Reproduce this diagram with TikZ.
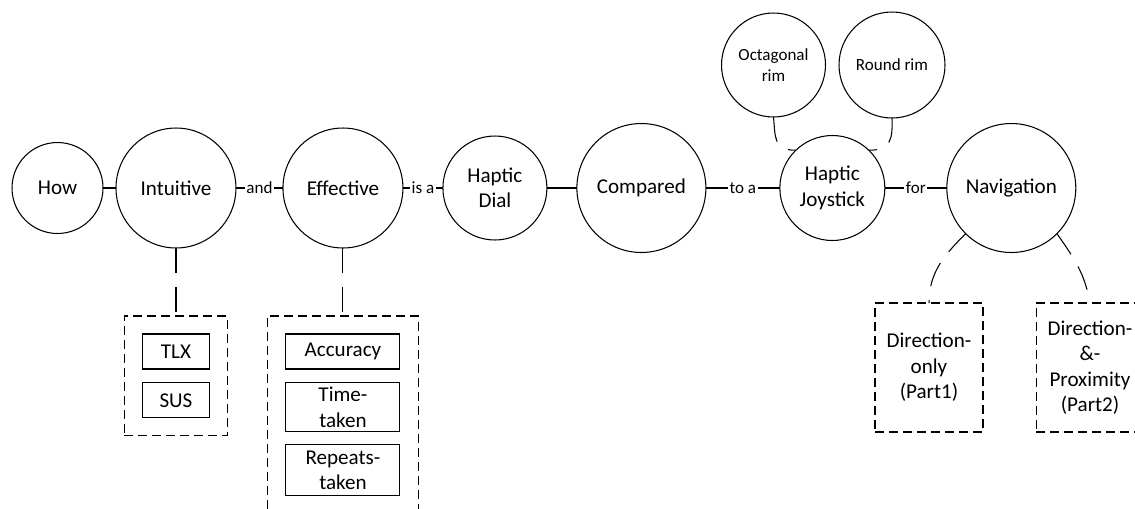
\documentclass[tikz,border=0pt]{standalone}
\usepackage{fontspec}
\setmainfont{Carlito}
\usetikzlibrary{positioning}
\newcommand{\topicfont}{\fontsize{12}{14.5}\selectfont}
\newcommand{\linkfont}{\fontsize{9.7}{11.5}\selectfont}
\tikzset {
topic/.style={shape=circle,draw,inner sep=0pt,outer sep=0pt,align=center,font=\topicfont},
rim/.style={topic,font=\linkfont},
measure/.style={shape=rectangle,draw,inner sep=0pt,outer sep=0pt,align=center,font=\topicfont},
measuregroup/.style={measure,dash pattern=on 0.18cm off 0.1cm},
linkword/.style={fill=white,inner sep=1pt,font=\linkfont},
dashlink/.style={dash pattern=on 0.5cm off 0.28cm}
}

\begin{document}
\begin{tikzpicture}
[x=0.02cm,y=-0.02cm,line width=0.6pt]
\clip (0,0) rectangle (1135,508);
% main question chain
\node[topic,minimum size=1.82cm] (how) at (57.5,188) {How};
\node[topic,minimum size=2.4cm] (intuitive) [right=0.26cm of how] {Intuitive};
\node[topic,minimum size=2.4cm] (effective) [right=0.94cm of intuitive] {Effective};
\node[topic,minimum size=2.08cm] (dial) [right=0.8cm of effective] {Haptic\\Dial};
\node[topic,minimum size=2.58cm] (compared) [right=0.6cm of dial] {Compared};
\node[topic,minimum size=2.1cm] (joystick) [right=1.48cm of compared] {Haptic\\Joystick};
\node[topic,minimum size=2.58cm] (navigation) [right=1.24cm of joystick] {Navigation};

% joystick variants
\node[rim,minimum size=2.08cm] (octagonal) at (773.5,65) {Octagonal\\rim};
\node[rim,minimum size=2.12cm] (round) at (892,65) {Round rim};

% measures
\node[measuregroup,minimum width=2.06cm,minimum height=2.4cm,anchor=north] (intuitive measures) [below=1.36cm of intuitive] {};
\node[measure,minimum width=1.34cm,minimum height=0.7cm,anchor=north] (tlx) [below=0.36cm of intuitive measures.north] {TLX};
\node[measure,minimum width=1.34cm,minimum height=0.7cm] (sus) [below=0.28cm of tlx] {SUS};
\node[measuregroup,minimum width=3.02cm,minimum height=4cm,anchor=north] (effective measures) [below=1.36cm of effective] {};
\node[measure,minimum width=2.28cm,minimum height=0.7cm,anchor=north] (accuracy) [below=0.36cm of effective measures.north] {Accuracy};
\node[measure,minimum width=2.28cm,minimum height=0.98cm] (time taken) [below=0.28cm of accuracy] {Time-\\taken};
\node[measure,minimum width=2.28cm,minimum height=1.02cm] (repeats taken) [below=0.26cm of time taken] {Repeats-\\taken};

% navigation parts
\node[measuregroup,minimum width=2.16cm,minimum height=2.58cm] (direction only) at (929,367.5) {Direction-\\only\\(Part1)};
\node[measuregroup,minimum width=2.16cm,minimum height=2.58cm] (direction proximity) at (1090,367.5) {Direction-\\\&-\\Proximity\\(Part2)};

\draw (how) -- (intuitive);
\draw (intuitive) -- node[linkword] {and} (effective);
\draw (effective) -- node[linkword] {is a} (dial);
\draw (dial) -- (compared);
\draw (compared) -- node[linkword] {to a} (joystick);
\draw (joystick) -- node[linkword] {for} (navigation);

\draw[dashlink] (intuitive) -- (intuitive measures);
\draw[dashlink] (effective) -- (effective measures);
\draw[dashlink] (octagonal.south) to[out=-85,in=180,looseness=1.4] (joystick.134);
\draw[dashlink] (round.south) to[out=-88,in=0,looseness=1.4] (joystick.46);
\draw[dashlink] (navigation.225) to[out=225,in=90] (direction only.north);
\draw[dashlink] (navigation.-45) to[out=-55,in=100] (direction proximity.north);
\end{tikzpicture}
\end{document}
